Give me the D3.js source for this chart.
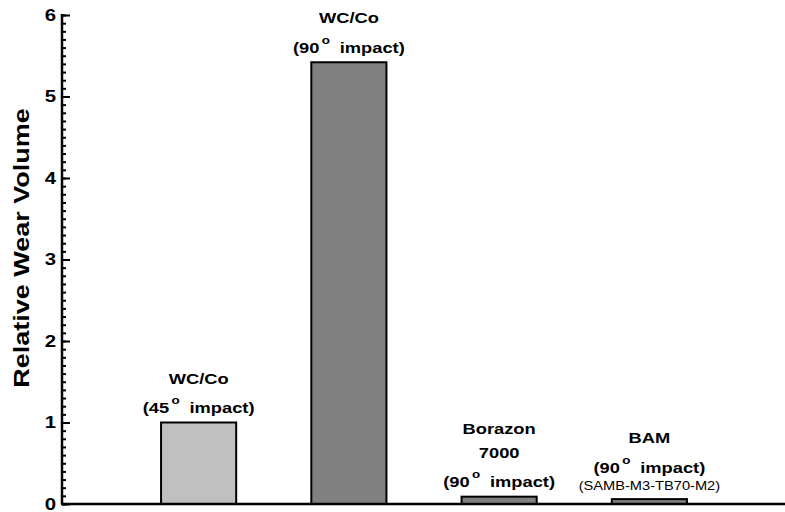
<!DOCTYPE html>
<html><head><meta charset="utf-8">
<script src="https://cdn.jsdelivr.net/npm/d3@7"></script>
<style>body{margin:0;background:#fff}svg{display:block}</style>
</head><body>
<svg id="c" width="785" height="512"></svg>
<script>
// ---- data ----
const categories = ["WC/Co (45° impact)", "WC/Co (90° impact)", "Borazon 7000 (90° impact)", "BAM (90° impact)"];
const values = [1.0, 5.42, 0.09, 0.06];
const barColors = ["#c0c0c0", "#808080", "#808080", "#808080"];
const labelLines = [
  [["WC/Co"], ["(45", "o", "impact)"]],
  [["WC/Co"], ["(90", "o", "impact)"]],
  [["Borazon"], ["7000"], ["(90", "o", "impact)"]],
  [["BAM"], ["(90", "o", "impact)"], ["(SAMB-M3-TB70-M2)", "small"]]
];
const yTicks = [0, 1, 2, 3, 4, 5, 6];
const yMinorStep = 0.1;
const yTitle = "Relative Wear Volume";

// ---- layout ----
const svg = d3.select("#c");
const W = 785, H = 512;
const x0 = 62, yBase = 504, yTop = 15;
const y = d3.scaleLinear().domain([0, 6]).range([yBase, yTop]);
const x = d3.scaleBand().domain(categories).range([123.5, 724.5]).paddingInner(0.5).paddingOuter(0.25);
const FONT = "'Liberation Sans', Arial, Helvetica, sans-serif";
const SX = 1.22;

// bars
svg.append("g").selectAll("rect").data(categories).join("rect")
  .attr("x", d => x(d))
  .attr("y", (d, i) => y(values[i]))
  .attr("width", x.bandwidth())
  .attr("height", (d, i) => yBase - y(values[i]))
  .attr("fill", (d, i) => barColors[i])
  .attr("stroke", "#000")
  .attr("stroke-width", 2);

// minor ticks
const minor = d3.range(0, 6 + 1e-9, yMinorStep).map(v => +v.toFixed(2));
svg.append("g").attr("transform", `translate(${x0},0)`)
  .call(d3.axisLeft(y).tickValues(minor).tickSizeInner(-4).tickSizeOuter(0).tickFormat(""))
  .call(g => g.select(".domain").remove())
  .call(g => g.selectAll("line").attr("stroke", "#000").attr("stroke-width", 2));

// major ticks + labels
svg.append("g").attr("transform", `translate(${x0},0)`)
  .call(d3.axisLeft(y).tickValues(yTicks).tickSizeInner(-8).tickSizeOuter(0).tickPadding(5).tickFormat(d3.format("d")))
  .call(g => g.select(".domain").remove())
  .call(g => g.selectAll("line").attr("stroke", "#000").attr("stroke-width", 2))
  .call(g => g.selectAll("text")
    .attr("font-family", FONT).attr("font-weight", "bold").attr("font-size", 17)
    .attr("fill", "#000").attr("dy", "0.3em")
    .attr("transform", `scale(1.2,1)`));

// axis lines
svg.append("line").attr("x1", x0).attr("x2", x0).attr("y1", yTop - 1).attr("y2", yBase)
  .attr("stroke", "#000").attr("stroke-width", 2.5);
svg.append("line").attr("x1", x0 - 1).attr("x2", W).attr("y1", yBase).attr("y2", yBase)
  .attr("stroke", "#000").attr("stroke-width", 2.5);

// y title
svg.append("text")
  .attr("transform", `translate(29,248) rotate(-90) scale(1.42,1.2)`)
  .attr("text-anchor", "middle")
  .attr("font-family", FONT).attr("font-weight", "bold").attr("font-size", 19)
  .text(yTitle);

// bar labels
categories.forEach((c, i) => {
  const cx = x(c) + x.bandwidth() / 2;
  const lines = labelLines[i];
  let base = y(values[i]) - 9.5;
  const bases = [];
  for (let k = lines.length - 1; k >= 0; k--) {
    bases[k] = base;
    const cur = lines[k];
    const gap = cur[1] === "small" ? 17 : (cur.length === 3 ? 29.5 : 24);
    base -= gap;
  }
  lines.forEach((ln, k) => {
    const g = svg.append("g").attr("transform", `translate(${cx},${bases[k]}) scale(${SX},1)`);
    const t = g.append("text").attr("text-anchor", "middle")
      .attr("font-family", FONT).attr("fill", "#000");
    if (ln[1] === "small") {
      t.attr("font-size", 12).text(ln[0]);
    } else if (ln.length === 3) {
      t.attr("font-weight", "bold").attr("font-size", 15);
      t.append("tspan").text(ln[0]);
      t.append("tspan").attr("dx", 2).attr("dy", -9).attr("font-size", 11).text(ln[1]);
      t.append("tspan").attr("dx", 8).attr("dy", 9).text(ln[2]);
    } else {
      t.attr("font-weight", "bold").attr("font-size", 15).text(ln[0]);
    }
  });
});
</script>
</body></html>
